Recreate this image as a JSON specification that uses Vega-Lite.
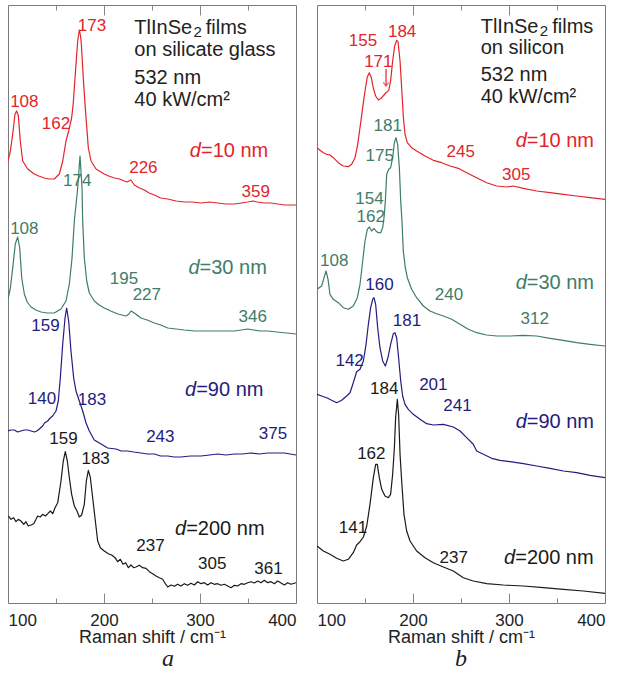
{
  "$schema": "https://vega.github.io/schema/vega-lite/v6.json",
  "padding": {"left": 7, "top": 4, "right": 10, "bottom": 2},
  "spacing": 19,
  "config": {
    "font": "Liberation Sans",
    "view": {"stroke": "#7a7a7a", "strokeWidth": 1},
    "axis": {"grid": false, "domain": false}
  },
  "datasets": {
    "sa": [
      {"d":"10","x":100,"y":442},{"d":"10","x":102.5,"y":452},{"d":"10","x":104.9,"y":469},{"d":"10","x":107.3,"y":489},{"d":"10","x":109,"y":492},{"d":"10","x":110.8,"y":487},{"d":"10","x":112.8,"y":462},{"d":"10","x":115.3,"y":442},{"d":"10","x":120.5,"y":434},{"d":"10","x":127.4,"y":429},{"d":"10","x":132,"y":427},{"d":"10","x":137.8,"y":425},{"d":"10","x":143,"y":424},{"d":"10","x":148.2,"y":424},{"d":"10","x":153.5,"y":429},{"d":"10","x":157,"y":442},{"d":"10","x":160.4,"y":462},{"d":"10","x":163.2,"y":472},{"d":"10","x":166.3,"y":485},{"d":"10","x":168,"y":500},{"d":"10","x":169.8,"y":525},{"d":"10","x":171.3,"y":545},{"d":"10","x":172.6,"y":562},{"d":"10","x":174.3,"y":573},{"d":"10","x":175.4,"y":568},{"d":"10","x":176.4,"y":559},{"d":"10","x":178.8,"y":519},{"d":"10","x":181.3,"y":485},{"d":"10","x":183.7,"y":455},{"d":"10","x":186.5,"y":442},{"d":"10","x":191.7,"y":434},{"d":"10","x":200.3,"y":429},{"d":"10","x":205,"y":427},{"d":"10","x":210.8,"y":425},{"d":"10","x":216,"y":424},{"d":"10","x":221.2,"y":422},{"d":"10","x":224,"y":421},{"d":"10","x":226,"y":422},{"d":"10","x":228,"y":423},{"d":"10","x":231.6,"y":418},{"d":"10","x":237,"y":415},{"d":"10","x":242,"y":413},{"d":"10","x":247,"y":410},{"d":"10","x":252.4,"y":408},{"d":"10","x":259,"y":405},{"d":"10","x":266.4,"y":404},{"d":"10","x":275,"y":402},{"d":"10","x":283.7,"y":401},{"d":"10","x":292,"y":401},{"d":"10","x":301,"y":400},{"d":"10","x":310,"y":401},{"d":"10","x":318.4,"y":400},{"d":"10","x":327,"y":399},{"d":"10","x":335.7,"y":399},{"d":"10","x":343,"y":400},{"d":"10","x":349.7,"y":401},{"d":"10","x":355,"y":402},{"d":"10","x":360,"y":401},{"d":"10","x":367,"y":400},{"d":"10","x":374,"y":400},{"d":"10","x":381,"y":399},{"d":"10","x":387.8,"y":398},{"d":"10","x":394,"y":398},{"d":"10","x":400,"y":398},
      {"d":"30","x":100,"y":304},{"d":"30","x":102.5,"y":315},{"d":"30","x":104.9,"y":335},{"d":"30","x":107.6,"y":359},{"d":"30","x":110.1,"y":366},{"d":"30","x":112.2,"y":355},{"d":"30","x":114.3,"y":325},{"d":"30","x":117,"y":309},{"d":"30","x":120,"y":301},{"d":"30","x":124,"y":296},{"d":"30","x":129,"y":293},{"d":"30","x":134.4,"y":291},{"d":"30","x":141,"y":290},{"d":"30","x":148.2,"y":290},{"d":"30","x":155.2,"y":294},{"d":"30","x":160.4,"y":302},{"d":"30","x":163.9,"y":319},{"d":"30","x":166.7,"y":345},{"d":"30","x":169.1,"y":382},{"d":"30","x":172.6,"y":415},{"d":"30","x":175,"y":447},{"d":"30","x":177.1,"y":415},{"d":"30","x":177.8,"y":382},{"d":"30","x":179.5,"y":345},{"d":"30","x":182,"y":322},{"d":"30","x":184.7,"y":310},{"d":"30","x":189.9,"y":302},{"d":"30","x":195,"y":298},{"d":"30","x":200.3,"y":295},{"d":"30","x":207,"y":292},{"d":"30","x":214.3,"y":289},{"d":"30","x":222.9,"y":287},{"d":"30","x":226,"y":289},{"d":"30","x":228.1,"y":292},{"d":"30","x":231.6,"y":290},{"d":"30","x":238.5,"y":285},{"d":"30","x":245,"y":283},{"d":"30","x":252.4,"y":280},{"d":"30","x":259,"y":278},{"d":"30","x":266.4,"y":275},{"d":"30","x":275,"y":274},{"d":"30","x":283.7,"y":273},{"d":"30","x":295,"y":272},{"d":"30","x":308,"y":272},{"d":"30","x":320,"y":272},{"d":"30","x":335.7,"y":272},{"d":"30","x":343,"y":273},{"d":"30","x":349.7,"y":274},{"d":"30","x":356,"y":273},{"d":"30","x":363,"y":272},{"d":"30","x":370.5,"y":272},{"d":"30","x":380,"y":271},{"d":"30","x":390,"y":270},{"d":"30","x":400,"y":269},
      {"d":"90","x":100,"y":172},{"d":"90","x":103,"y":173},{"d":"90","x":106.6,"y":173},{"d":"90","x":110,"y":171},{"d":"90","x":113.5,"y":172},{"d":"90","x":117,"y":173},{"d":"90","x":120.5,"y":173},{"d":"90","x":124,"y":172},{"d":"90","x":127.4,"y":171},{"d":"90","x":130,"y":172},{"d":"90","x":132.6,"y":174},{"d":"90","x":136.1,"y":177},{"d":"90","x":138,"y":180},{"d":"90","x":141.3,"y":182},{"d":"90","x":144,"y":185},{"d":"90","x":146.5,"y":187},{"d":"90","x":150,"y":192},{"d":"90","x":152.4,"y":202},{"d":"90","x":154.5,"y":225},{"d":"90","x":157,"y":259},{"d":"90","x":159.4,"y":285},{"d":"90","x":161.1,"y":295},{"d":"90","x":163.2,"y":282},{"d":"90","x":165.6,"y":252},{"d":"90","x":168.4,"y":225},{"d":"90","x":170.8,"y":212},{"d":"90","x":174.3,"y":202},{"d":"90","x":177.8,"y":192},{"d":"90","x":181.3,"y":180},{"d":"90","x":184.7,"y":172},{"d":"90","x":189.9,"y":163},{"d":"90","x":196.9,"y":159},{"d":"90","x":203.8,"y":155},{"d":"90","x":212.5,"y":154},{"d":"90","x":218,"y":152},{"d":"90","x":224.7,"y":152},{"d":"90","x":231,"y":151},{"d":"90","x":238.5,"y":150},{"d":"90","x":245,"y":149},{"d":"90","x":252.4,"y":149},{"d":"90","x":259,"y":147},{"d":"90","x":266.4,"y":147},{"d":"90","x":273,"y":146},{"d":"90","x":280.2,"y":146},{"d":"90","x":290,"y":147},{"d":"90","x":301,"y":147},{"d":"90","x":310,"y":148},{"d":"90","x":318.4,"y":149},{"d":"90","x":327,"y":148},{"d":"90","x":335.7,"y":149},{"d":"90","x":344,"y":149},{"d":"90","x":353.1,"y":150},{"d":"90","x":362,"y":149},{"d":"90","x":370.5,"y":150},{"d":"90","x":379,"y":150},{"d":"90","x":387.8,"y":150},{"d":"90","x":394,"y":149},{"d":"90","x":400,"y":148},
      {"d":"200","x":100.3,"y":87},{"d":"200","x":103.1,"y":83.7},{"d":"200","x":105.9,"y":85.3},{"d":"200","x":108.3,"y":81.3},{"d":"200","x":110.7,"y":83.7},{"d":"200","x":113.5,"y":82},{"d":"200","x":116.4,"y":78.7},{"d":"200","x":118.75,"y":81.3},{"d":"200","x":121.1,"y":77},{"d":"200","x":124,"y":78},{"d":"200","x":126.8,"y":79.3},{"d":"200","x":129.2,"y":83.7},{"d":"200","x":130.9,"y":87},{"d":"200","x":133.6,"y":86},{"d":"200","x":136.1,"y":88.7},{"d":"200","x":138.9,"y":87},{"d":"200","x":141.4,"y":89.3},{"d":"200","x":144.1,"y":92},{"d":"200","x":146.6,"y":89.3},{"d":"200","x":149,"y":95.3},{"d":"200","x":151.8,"y":100.3},{"d":"200","x":155.2,"y":122},{"d":"200","x":157.6,"y":142},{"d":"200","x":159.7,"y":151.3},{"d":"200","x":161.8,"y":142},{"d":"200","x":163.9,"y":125.3},{"d":"200","x":166.3,"y":108.7},{"d":"200","x":169.1,"y":97},{"d":"200","x":171.9,"y":92},{"d":"200","x":174.3,"y":86},{"d":"200","x":176.7,"y":88},{"d":"200","x":179.5,"y":98.7},{"d":"200","x":181.6,"y":122},{"d":"200","x":183.7,"y":132.7},{"d":"200","x":185.8,"y":125.3},{"d":"200","x":188.2,"y":105.3},{"d":"200","x":190.6,"y":85.3},{"d":"200","x":193.4,"y":62},{"d":"200","x":196.2,"y":55.3},{"d":"200","x":200.3,"y":52},{"d":"200","x":204.5,"y":49.3},{"d":"200","x":208,"y":48},{"d":"200","x":211.5,"y":45.3},{"d":"200","x":214.2,"y":41.3},{"d":"200","x":217,"y":43.7},{"d":"200","x":219.8,"y":38.7},{"d":"200","x":222.6,"y":40.3},{"d":"200","x":225.4,"y":35.3},{"d":"200","x":228.1,"y":38},{"d":"200","x":230.9,"y":35.3},{"d":"200","x":233.3,"y":36},{"d":"200","x":236.8,"y":37.7},{"d":"200","x":240.3,"y":35.3},{"d":"200","x":243.75,"y":34.7},{"d":"200","x":247.2,"y":31.3},{"d":"200","x":250.7,"y":29.3},{"d":"200","x":254.2,"y":27},{"d":"200","x":257.6,"y":25.3},{"d":"200","x":261.1,"y":23.7},{"d":"200","x":263.9,"y":19.3},{"d":"200","x":266.4,"y":16},{"d":"200","x":269.8,"y":18},{"d":"200","x":273.3,"y":16.7},{"d":"200","x":276.7,"y":18.7},{"d":"200","x":280.2,"y":17},{"d":"200","x":283.7,"y":19.3},{"d":"200","x":287.2,"y":17.7},{"d":"200","x":290.6,"y":19.7},{"d":"200","x":294.1,"y":18},{"d":"200","x":297.6,"y":21.3},{"d":"200","x":301,"y":19.3},{"d":"200","x":304.5,"y":20.3},{"d":"200","x":308,"y":18},{"d":"200","x":311.5,"y":20.3},{"d":"200","x":314.9,"y":18.7},{"d":"200","x":318.4,"y":19.3},{"d":"200","x":321.9,"y":17.7},{"d":"200","x":325.3,"y":18.7},{"d":"200","x":328.8,"y":17},{"d":"200","x":332.3,"y":15.3},{"d":"200","x":335.8,"y":17.7},{"d":"200","x":339.2,"y":17},{"d":"200","x":342.7,"y":19.3},{"d":"200","x":346.2,"y":18.7},{"d":"200","x":349.7,"y":20.3},{"d":"200","x":353.1,"y":21.3},{"d":"200","x":356.6,"y":20},{"d":"200","x":360.1,"y":22},{"d":"200","x":363.6,"y":20.3},{"d":"200","x":367,"y":22.7},{"d":"200","x":370.5,"y":20.3},{"d":"200","x":374,"y":21.3},{"d":"200","x":377.5,"y":19.3},{"d":"200","x":380.9,"y":22},{"d":"200","x":384.4,"y":20},{"d":"200","x":387.9,"y":18},{"d":"200","x":391.3,"y":20.3},{"d":"200","x":394.8,"y":18.7},{"d":"200","x":400,"y":20.3}
    ],
    "sb": [
      {"d":"10","x":100,"y":455.3},{"d":"10","x":103.1,"y":452.7},{"d":"10","x":106.6,"y":450.3},{"d":"10","x":110,"y":448.7},{"d":"10","x":113.5,"y":448},{"d":"10","x":117,"y":445.3},{"d":"10","x":122.2,"y":440.3},{"d":"10","x":127.4,"y":437},{"d":"10","x":132.6,"y":436.3},{"d":"10","x":136.1,"y":438.7},{"d":"10","x":139.6,"y":445.3},{"d":"10","x":142.4,"y":458.7},{"d":"10","x":144.8,"y":475.3},{"d":"10","x":147.6,"y":495.3},{"d":"10","x":150,"y":512},{"d":"10","x":152.4,"y":526},{"d":"10","x":154.5,"y":530.3},{"d":"10","x":156.6,"y":525.3},{"d":"10","x":158.7,"y":514.7},{"d":"10","x":161.1,"y":507},{"d":"10","x":163.9,"y":503},{"d":"10","x":166.7,"y":504.7},{"d":"10","x":169.8,"y":508},{"d":"10","x":171.9,"y":510.3},{"d":"10","x":173.3,"y":511.3},{"d":"10","x":174.7,"y":512.7},{"d":"10","x":176.7,"y":522},{"d":"10","x":178.8,"y":542},{"d":"10","x":180.9,"y":557},{"d":"10","x":183,"y":562.7},{"d":"10","x":184.4,"y":561.3},{"d":"10","x":186.5,"y":542},{"d":"10","x":188.2,"y":515.3},{"d":"10","x":190,"y":485.3},{"d":"10","x":191.7,"y":468.7},{"d":"10","x":194.1,"y":460.3},{"d":"10","x":198.6,"y":455.3},{"d":"10","x":203.8,"y":452},{"d":"10","x":212.5,"y":447},{"d":"10","x":221.2,"y":442.7},{"d":"10","x":229.9,"y":440.3},{"d":"10","x":238.5,"y":437},{"d":"10","x":247.2,"y":434.7},{"d":"10","x":255.9,"y":430.3},{"d":"10","x":266.3,"y":425.3},{"d":"10","x":276.7,"y":420.3},{"d":"10","x":287.2,"y":417},{"d":"10","x":297.6,"y":416},{"d":"10","x":304.5,"y":417},{"d":"10","x":315,"y":414.7},{"d":"10","x":328.8,"y":412},{"d":"10","x":342.7,"y":410.3},{"d":"10","x":356.6,"y":408.7},{"d":"10","x":370.5,"y":407},{"d":"10","x":384.4,"y":405.3},{"d":"10","x":400,"y":403.7},
      {"d":"30","x":100,"y":313.7},{"d":"30","x":104.9,"y":317},{"d":"30","x":107.3,"y":325.3},{"d":"30","x":109.4,"y":332},{"d":"30","x":111.5,"y":323.7},{"d":"30","x":113.5,"y":308.7},{"d":"30","x":117,"y":303.7},{"d":"30","x":122.2,"y":300.3},{"d":"30","x":127.4,"y":295.3},{"d":"30","x":132.6,"y":293.7},{"d":"30","x":137.8,"y":297},{"d":"30","x":142,"y":305.3},{"d":"30","x":144.8,"y":318.7},{"d":"30","x":147.6,"y":342},{"d":"30","x":150,"y":362},{"d":"30","x":152.4,"y":373.7},{"d":"30","x":154.5,"y":376},{"d":"30","x":156.9,"y":372},{"d":"30","x":159.4,"y":374.7},{"d":"30","x":161.4,"y":372},{"d":"30","x":163.9,"y":370.3},{"d":"30","x":166.3,"y":370.3},{"d":"30","x":168.4,"y":375.3},{"d":"30","x":169.8,"y":385.3},{"d":"30","x":171.2,"y":402},{"d":"30","x":172.6,"y":428.7},{"d":"30","x":174.7,"y":433.7},{"d":"30","x":176.7,"y":435.3},{"d":"30","x":178.8,"y":445.3},{"d":"30","x":180.6,"y":460.3},{"d":"30","x":182.3,"y":465.3},{"d":"30","x":184,"y":458.7},{"d":"30","x":185.8,"y":435.3},{"d":"30","x":187.2,"y":402},{"d":"30","x":188.5,"y":382},{"d":"30","x":189.9,"y":352},{"d":"30","x":192,"y":335.3},{"d":"30","x":194.1,"y":325.3},{"d":"30","x":198.6,"y":313.7},{"d":"30","x":203.8,"y":305.3},{"d":"30","x":210.8,"y":297},{"d":"30","x":217.7,"y":292},{"d":"30","x":224.7,"y":289.3},{"d":"30","x":231.6,"y":287},{"d":"30","x":240.3,"y":283.7},{"d":"30","x":249,"y":278.7},{"d":"30","x":257.6,"y":273.7},{"d":"30","x":266.3,"y":270.3},{"d":"30","x":276.7,"y":268},{"d":"30","x":287.2,"y":267},{"d":"30","x":301,"y":267},{"d":"30","x":315,"y":267.7},{"d":"30","x":328.8,"y":267},{"d":"30","x":342.7,"y":264.7},{"d":"30","x":356.6,"y":262.7},{"d":"30","x":370.5,"y":260.3},{"d":"30","x":384.4,"y":258.7},{"d":"30","x":400,"y":257},
      {"d":"90","x":100,"y":208.7},{"d":"90","x":104.9,"y":207},{"d":"90","x":110.1,"y":205.3},{"d":"90","x":115.3,"y":202.7},{"d":"90","x":120.5,"y":200.3},{"d":"90","x":125.7,"y":202.7},{"d":"90","x":130.9,"y":207},{"d":"90","x":134.4,"y":210.3},{"d":"90","x":137.8,"y":220.3},{"d":"90","x":141.3,"y":231.3},{"d":"90","x":144.8,"y":233.7},{"d":"90","x":148.3,"y":242},{"d":"90","x":151.1,"y":258.7},{"d":"90","x":153.5,"y":278.7},{"d":"90","x":155.9,"y":295.3},{"d":"90","x":158,"y":303.7},{"d":"90","x":159.4,"y":305.3},{"d":"90","x":161.1,"y":298.7},{"d":"90","x":163.2,"y":275.3},{"d":"90","x":165.6,"y":255.3},{"d":"90","x":168.4,"y":242},{"d":"90","x":171.2,"y":237},{"d":"90","x":173.9,"y":245.3},{"d":"90","x":176.7,"y":258.7},{"d":"90","x":179.5,"y":269.3},{"d":"90","x":181.2,"y":270.3},{"d":"90","x":183,"y":265.3},{"d":"90","x":185,"y":245.3},{"d":"90","x":187.2,"y":222},{"d":"90","x":189.2,"y":207},{"d":"90","x":191.7,"y":198.7},{"d":"90","x":195.1,"y":193.7},{"d":"90","x":200.3,"y":188.7},{"d":"90","x":207.3,"y":183.7},{"d":"90","x":214.2,"y":179.3},{"d":"90","x":221.2,"y":178},{"d":"90","x":231.6,"y":178.7},{"d":"90","x":242,"y":176},{"d":"90","x":249,"y":172},{"d":"90","x":255.9,"y":165.3},{"d":"90","x":262.8,"y":158.7},{"d":"90","x":266.3,"y":152},{"d":"90","x":273.3,"y":148.7},{"d":"90","x":282,"y":144.7},{"d":"90","x":290.6,"y":142.7},{"d":"90","x":301,"y":141.3},{"d":"90","x":315,"y":139.3},{"d":"90","x":328.8,"y":137},{"d":"90","x":342.7,"y":134.7},{"d":"90","x":356.6,"y":132},{"d":"90","x":370.5,"y":130.3},{"d":"90","x":384.4,"y":127.7},{"d":"90","x":400,"y":125.3},
      {"d":"200","x":100,"y":57},{"d":"200","x":106.6,"y":52},{"d":"200","x":113.5,"y":48.7},{"d":"200","x":120.5,"y":44.7},{"d":"200","x":127.4,"y":42},{"d":"200","x":132.6,"y":43.7},{"d":"200","x":137.8,"y":50.3},{"d":"200","x":141.3,"y":58},{"d":"200","x":144.8,"y":61.3},{"d":"200","x":148.3,"y":66},{"d":"200","x":151.8,"y":77},{"d":"200","x":155.2,"y":98.7},{"d":"200","x":158.7,"y":125.3},{"d":"200","x":161.1,"y":138.7},{"d":"200","x":162.8,"y":138.7},{"d":"200","x":164.9,"y":125.3},{"d":"200","x":167.4,"y":113.7},{"d":"200","x":170.8,"y":107},{"d":"200","x":174.3,"y":105.3},{"d":"200","x":176.7,"y":108.7},{"d":"200","x":178.8,"y":128.7},{"d":"200","x":180.6,"y":155.3},{"d":"200","x":181.9,"y":185.3},{"d":"200","x":183.7,"y":203.7},{"d":"200","x":185,"y":188.7},{"d":"200","x":186.5,"y":148.7},{"d":"200","x":188.2,"y":122},{"d":"200","x":190.6,"y":88.7},{"d":"200","x":193.4,"y":72},{"d":"200","x":196.9,"y":62},{"d":"200","x":203.8,"y":52},{"d":"200","x":212.5,"y":45.3},{"d":"200","x":221.2,"y":40.3},{"d":"200","x":231.6,"y":36},{"d":"200","x":242,"y":32},{"d":"200","x":252.4,"y":25.3},{"d":"200","x":262.8,"y":22},{"d":"200","x":276.7,"y":19.3},{"d":"200","x":294.1,"y":18},{"d":"200","x":315,"y":17},{"d":"200","x":335.8,"y":15.3},{"d":"200","x":356.6,"y":13.7},{"d":"200","x":377.4,"y":12},{"d":"200","x":400,"y":9.7}
    ],
    "pa": [
      {"x":187.5,"y":577,"t":"173","d":"10"},{"x":117,"y":501,"t":"108","d":"10"},{"x":150,"y":479.5,"t":"162","d":"10"},{"x":241,"y":435,"t":"226","d":"10"},{"x":358,"y":411,"t":"359","d":"10"},
      {"x":172.2,"y":422,"t":"174","d":"30"},{"x":117,"y":374.5,"t":"108","d":"30"},{"x":220.8,"y":324.5,"t":"195","d":"30"},{"x":244.6,"y":308.3,"t":"227","d":"30"},{"x":354.9,"y":286,"t":"346","d":"30"},
      {"x":139,"y":277.5,"t":"159","d":"90"},{"x":135.4,"y":203.7,"t":"140","d":"90"},{"x":187.5,"y":203,"t":"183","d":"90"},{"x":258.7,"y":166,"t":"243","d":"90"},{"x":376,"y":168.7,"t":"375","d":"90"},
      {"x":157.8,"y":163.7,"t":"159","d":"200"},{"x":191.3,"y":143.7,"t":"183","d":"200"},{"x":248.4,"y":57,"t":"237","d":"200"},{"x":312.8,"y":39,"t":"305","d":"200"},{"x":371.4,"y":33.7,"t":"361","d":"200"}
    ],
    "pb": [
      {"x":147.9,"y":562,"t":"155","d":"10"},{"x":188.7,"y":571.2,"t":"184","d":"10"},{"x":163.9,"y":541.2,"t":"171","d":"10"},{"x":249.8,"y":451,"t":"245","d":"10"},{"x":307.5,"y":428.3,"t":"305","d":"10"},
      {"x":173.6,"y":477,"t":"181","d":"30"},{"x":165.3,"y":447,"t":"175","d":"30"},{"x":154.7,"y":404,"t":"154","d":"30"},{"x":156,"y":386,"t":"162","d":"30"},{"x":117.9,"y":342,"t":"108","d":"30"},{"x":237.5,"y":308.3,"t":"240","d":"30"},{"x":326.8,"y":284.3,"t":"312","d":"30"},
      {"x":165.1,"y":318,"t":"160","d":"90"},{"x":193.75,"y":282,"t":"181","d":"90"},{"x":134,"y":241.7,"t":"142","d":"90"},{"x":221.2,"y":218.3,"t":"201","d":"90"},{"x":246.4,"y":197,"t":"241","d":"90"},
      {"x":170,"y":213.7,"t":"184","d":"200"},{"x":156.6,"y":149,"t":"162","d":"200"},{"x":137.5,"y":75.3,"t":"141","d":"200"},{"x":242.5,"y":45,"t":"237","d":"200"}
    ],
    "ab": [
      {"x":171.9,"y":534,"y2":517,"d":"10"}
    ],
    "da": [
      {"x":301,"y":451.7,"t":"=10 nm","d":"10"},{"x":299.5,"y":335,"t":"=30 nm","d":"30"},{"x":296,"y":213,"t":"=90 nm","d":"90"},{"x":285.6,"y":74.5,"t":"=200 nm","d":"200"}
    ],
    "db": [
      {"x":318.5,"y":462,"t":"=10 nm","d":"10"},{"x":318.5,"y":320,"t":"=30 nm","d":"30"},{"x":318.5,"y":181.2,"t":"=90 nm","d":"90"},{"x":306.5,"y":45.3,"t":"=200 nm","d":"200"}
    ],
    "ha": [
      {"x":231.6,"y":569,"t":"TlInSe"},{"x":306,"y":569,"t":"films"},{"x":231.6,"y":547,"t":"on silicate glass"},{"x":231.6,"y":519.3,"t":"532 nm"},{"x":231.6,"y":497,"t":"40 kW/cm²"}
    ],
    "hb": [
      {"x":270.5,"y":570,"t":"TlInSe"},{"x":345,"y":570,"t":"films"},{"x":270.5,"y":548.7,"t":"on silicon"},{"x":270.5,"y":522,"t":"532 nm"},{"x":270.5,"y":500.3,"t":"40 kW/cm²"}
    ],
    "sua": [{"x":293.2,"y":566,"t":"2"}],
    "sub": [{"x":332.1,"y":567,"t":"2"}]
  },
  "hconcat": [
    {
      "width": 288, "height": 598,
      "title": {"text": "a", "orient": "bottom", "anchor": "middle", "font": "Liberation Serif", "fontStyle": "italic", "fontWeight": "normal", "fontSize": 24, "color": "#222", "offset": 1, "dx": 16},
      "resolve": {"axis": {"x": "independent"}},
      "layer": [
        {
          "data": {"name": "sa"},
          "mark": {"type": "line", "strokeWidth": 1.2, "strokeJoin": "round", "clip": true},
          "encoding": {
            "x": {"field": "x", "type": "quantitative", "scale": {"domain": [100, 400], "nice": false, "zero": false},
                  "axis": {"orient": "bottom", "values": [100, 200, 300, 400], "ticks": false, "tickSize": 0, "labelFlush": true, "labelFontSize": 17, "labelColor": "#222", "labelPadding": 9, "title": "Raman shift / cm⁻¹", "titleFontSize": 18, "titleFontWeight": "normal", "titleColor": "#222", "titleBaseline": "alphabetic", "titleY": 39}},
            "y": {"field": "y", "type": "quantitative", "scale": {"domain": [0, 598], "nice": false, "zero": false}, "axis": null},
            "color": {"field": "d", "type": "nominal", "scale": {"domain": ["10", "30", "90", "200"], "range": ["#e2242b", "#3e7d68", "#231c80", "#1a1a1a"]}, "legend": null}
          }
        },
        {
          "data": {"name": "pa"},
          "mark": {"type": "text", "fontSize": 17, "align": "center", "baseline": "middle"},
          "encoding": {
            "x": {"field": "x", "type": "quantitative", "axis": {"orient": "top", "values": [200, 300], "labels": false, "ticks": true, "tickSize": -10, "tickColor": "#888", "title": null}},
            "y": {"field": "y", "type": "quantitative", "axis": null},
            "text": {"field": "t"},
            "color": {"field": "d", "type": "nominal", "legend": null}
          }
        },
        {
          "data": {"name": "da"},
          "mark": {"type": "text", "fontSize": 20, "align": "right", "baseline": "middle", "fontStyle": "italic"},
          "encoding": {
            "x": {"field": "x", "type": "quantitative", "axis": {"orient": "bottom", "values": [200, 300], "labels": false, "ticks": true, "tickSize": -10, "tickColor": "#888", "title": null}},
            "y": {"field": "y", "type": "quantitative", "axis": null},
            "text": {"value": "d"},
            "color": {"field": "d", "type": "nominal", "legend": null}
          }
        },
        {
          "data": {"name": "da"},
          "mark": {"type": "text", "fontSize": 20, "align": "left", "baseline": "middle"},
          "encoding": {
            "x": {"field": "x", "type": "quantitative", "axis": {"orient": "bottom", "values": [150, 250, 350], "labels": false, "ticks": true, "tickSize": -5, "tickColor": "#888", "title": null}},
            "y": {"field": "y", "type": "quantitative", "axis": null},
            "text": {"field": "t"},
            "color": {"field": "d", "type": "nominal", "legend": null}
          }
        },
        {
          "data": {"name": "ha"},
          "mark": {"type": "text", "fontSize": 20, "align": "left", "baseline": "alphabetic", "color": "#222"},
          "encoding": {
            "x": {"field": "x", "type": "quantitative", "axis": {"orient": "top", "values": [150, 250, 350], "labels": false, "ticks": true, "tickSize": -5, "tickColor": "#888", "title": null}},
            "y": {"field": "y", "type": "quantitative", "axis": null},
            "text": {"field": "t"}
          }
        },
        {
          "data": {"name": "sua"},
          "mark": {"type": "text", "fontSize": 15, "align": "left", "baseline": "alphabetic", "color": "#222"},
          "encoding": {
            "x": {"field": "x", "type": "quantitative", "axis": null},
            "y": {"field": "y", "type": "quantitative", "axis": null},
            "text": {"field": "t"}
          }
        }
      ]
    },
    {
      "width": 288, "height": 598,
      "title": {"text": "b", "orient": "bottom", "anchor": "middle", "font": "Liberation Serif", "fontStyle": "italic", "fontWeight": "normal", "fontSize": 24, "color": "#222", "offset": 1},
      "resolve": {"axis": {"x": "independent"}},
      "layer": [
        {
          "data": {"name": "sb"},
          "mark": {"type": "line", "strokeWidth": 1.2, "strokeJoin": "round", "clip": true},
          "encoding": {
            "x": {"field": "x", "type": "quantitative", "scale": {"domain": [100, 400], "nice": false, "zero": false},
                  "axis": {"orient": "bottom", "values": [100, 200, 300, 400], "ticks": false, "tickSize": 0, "labelFlush": true, "labelFontSize": 17, "labelColor": "#222", "labelPadding": 9, "title": "Raman shift / cm⁻¹", "titleFontSize": 18, "titleFontWeight": "normal", "titleColor": "#222", "titleBaseline": "alphabetic", "titleY": 39}},
            "y": {"field": "y", "type": "quantitative", "scale": {"domain": [0, 598], "nice": false, "zero": false}, "axis": null},
            "color": {"field": "d", "type": "nominal", "scale": {"domain": ["10", "30", "90", "200"], "range": ["#e2242b", "#3e7d68", "#231c80", "#1a1a1a"]}, "legend": null}
          }
        },
        {
          "data": {"name": "pb"},
          "mark": {"type": "text", "fontSize": 17, "align": "center", "baseline": "middle"},
          "encoding": {
            "x": {"field": "x", "type": "quantitative", "axis": {"orient": "top", "values": [200, 300], "labels": false, "ticks": true, "tickSize": -10, "tickColor": "#888", "title": null}},
            "y": {"field": "y", "type": "quantitative", "axis": null},
            "text": {"field": "t"},
            "color": {"field": "d", "type": "nominal", "legend": null}
          }
        },
        {
          "data": {"name": "ab"},
          "mark": {"type": "rule", "strokeWidth": 1.2},
          "encoding": {
            "x": {"field": "x", "type": "quantitative", "axis": null},
            "y": {"field": "y", "type": "quantitative", "axis": null},
            "y2": {"field": "y2"},
            "color": {"field": "d", "type": "nominal", "legend": null}
          }
        },
        {
          "data": {"name": "ab"},
          "mark": {"type": "point", "shape": "M -1 -1.3 L 0 0 L 1 -1.3", "filled": false, "size": 30, "strokeWidth": 1.2},
          "encoding": {
            "x": {"field": "x", "type": "quantitative", "axis": null},
            "y": {"field": "y2", "type": "quantitative", "axis": null},
            "color": {"field": "d", "type": "nominal", "legend": null}
          }
        },
        {
          "data": {"name": "db"},
          "mark": {"type": "text", "fontSize": 20, "align": "right", "baseline": "middle", "fontStyle": "italic"},
          "encoding": {
            "x": {"field": "x", "type": "quantitative", "axis": {"orient": "bottom", "values": [200, 300], "labels": false, "ticks": true, "tickSize": -10, "tickColor": "#888", "title": null}},
            "y": {"field": "y", "type": "quantitative", "axis": null},
            "text": {"value": "d"},
            "color": {"field": "d", "type": "nominal", "legend": null}
          }
        },
        {
          "data": {"name": "db"},
          "mark": {"type": "text", "fontSize": 20, "align": "left", "baseline": "middle"},
          "encoding": {
            "x": {"field": "x", "type": "quantitative", "axis": {"orient": "bottom", "values": [150, 250, 350], "labels": false, "ticks": true, "tickSize": -5, "tickColor": "#888", "title": null}},
            "y": {"field": "y", "type": "quantitative", "axis": null},
            "text": {"field": "t"},
            "color": {"field": "d", "type": "nominal", "legend": null}
          }
        },
        {
          "data": {"name": "hb"},
          "mark": {"type": "text", "fontSize": 20, "align": "left", "baseline": "alphabetic", "color": "#222"},
          "encoding": {
            "x": {"field": "x", "type": "quantitative", "axis": {"orient": "top", "values": [150, 250, 350], "labels": false, "ticks": true, "tickSize": -5, "tickColor": "#888", "title": null}},
            "y": {"field": "y", "type": "quantitative", "axis": null},
            "text": {"field": "t"}
          }
        },
        {
          "data": {"name": "sub"},
          "mark": {"type": "text", "fontSize": 15, "align": "left", "baseline": "alphabetic", "color": "#222"},
          "encoding": {
            "x": {"field": "x", "type": "quantitative", "axis": null},
            "y": {"field": "y", "type": "quantitative", "axis": null},
            "text": {"field": "t"}
          }
        }
      ]
    }
  ]
}
